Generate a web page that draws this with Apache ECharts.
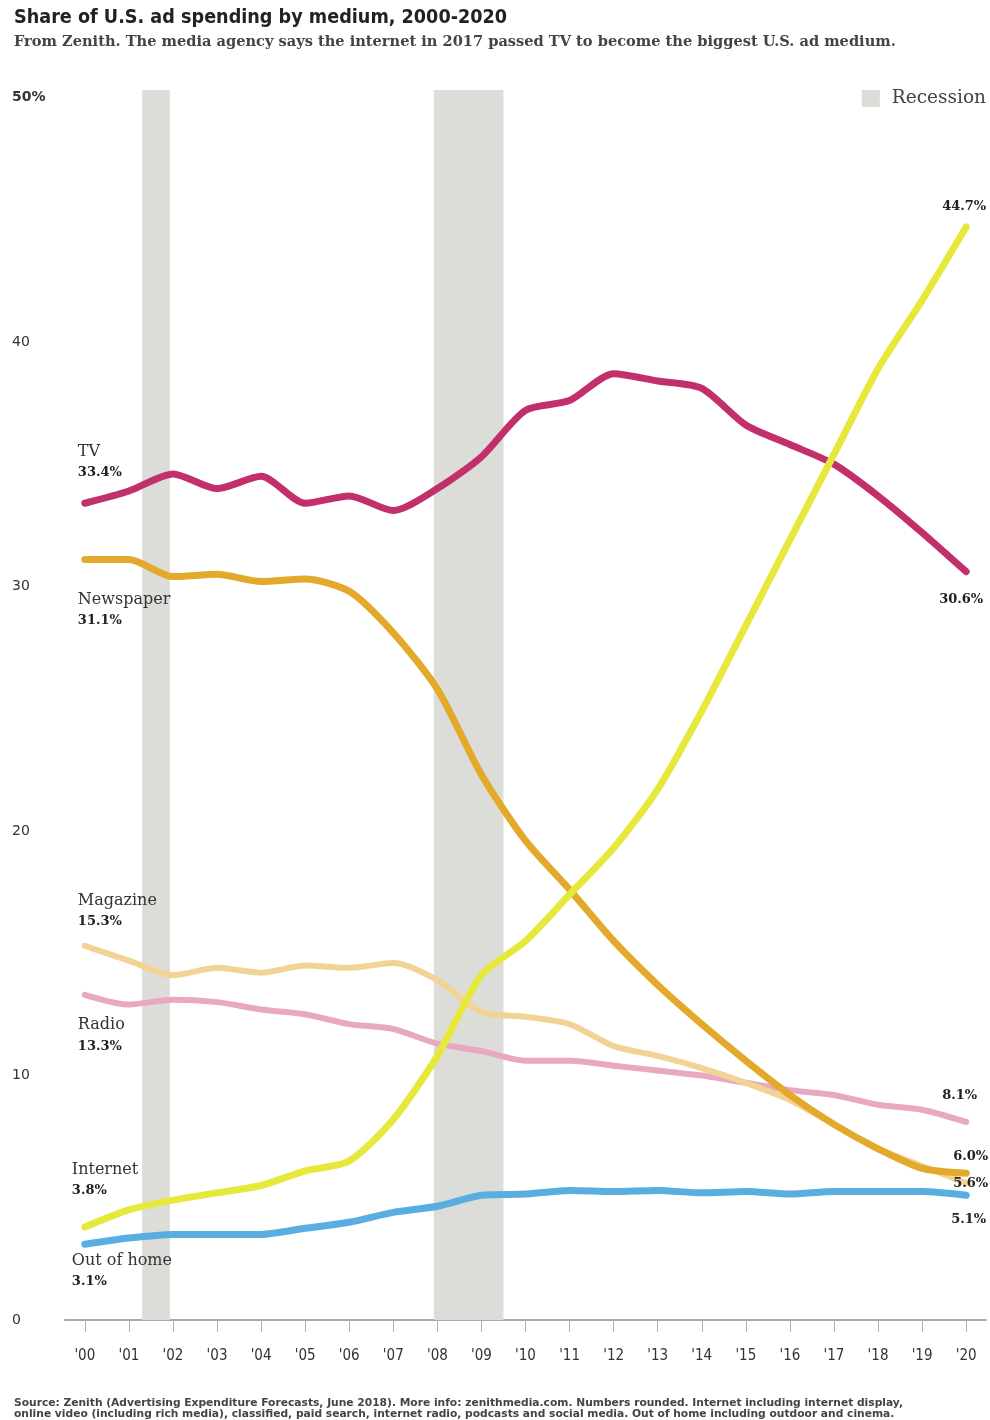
<!DOCTYPE html>
<html>
<head>
<meta charset="utf-8">
<script src="https://cdn.jsdelivr.net/npm/echarts@6/dist/echarts.min.js"></script>
<style>
html,body{margin:0;padding:0;background:#fff;}
#chart{width:990px;height:1420px;}
</style>
</head>
<body>
<div id="chart"></div>
<script>
var years = [2000,2001,2002,2003,2004,2005,2006,2007,2008,2009,2010,2011,2012,2013,2014,2015,2016,2017,2018,2019,2020];
var tvValues = [33.4,33.9,34.6,34.0,34.5,33.4,33.7,33.1,34.0,35.3,37.2,37.6,38.7,38.4,38.1,36.6,35.8,35.0,33.7,32.2,30.6];
var newspaperValues = [31.1,31.1,30.4,30.5,30.2,30.3,29.8,28.1,25.8,22.3,19.6,17.6,15.5,13.7,12.1,10.6,9.2,8.0,7.0,6.2,6.0];
var magazineValues = [15.3,14.7,14.1,14.4,14.2,14.5,14.4,14.6,13.9,12.6,12.4,12.1,11.2,10.8,10.3,9.7,9.0,8.0,7.0,6.3,5.6];
var radioValues = [13.3,12.9,13.1,13.0,12.7,12.5,12.1,11.9,11.3,11.0,10.6,10.6,10.4,10.2,10.0,9.7,9.4,9.2,8.8,8.6,8.1];
var internetValues = [3.8,4.5,4.9,5.2,5.5,6.1,6.5,8.2,10.8,14.1,15.5,17.4,19.3,21.7,24.9,28.4,31.9,35.4,38.9,41.7,44.7];
var outOfHomeValues = [3.1,3.35,3.5,3.5,3.5,3.75,4.0,4.4,4.65,5.1,5.15,5.3,5.25,5.3,5.2,5.25,5.15,5.25,5.25,5.25,5.1];
var recessions = [[2001.3, 2001.93], [2007.92, 2009.5]];
var yTicks = [0,10,20,30,40,50];

var chart = echarts.init(document.getElementById('chart'), null, {renderer:'canvas'});

var serif = 'DejaVu Serif';
var cond = 'DejaVu Sans Condensed';
var labelRich = {
  n: {fontFamily: serif, fontSize: 16, color: '#333', lineHeight: 21},
  v: {fontFamily: serif, fontSize: 13, fontWeight: 'bold', color: '#222', lineHeight: 21}
};

function makeData(vals, name, startOff, endOff) {
  return vals.map(function(v, i){
    var item = {value: [years[i], v]};
    if (i === 0) {
      item.label = {
        show: true, position: 'inside', align: 'left', verticalAlign: 'middle',
        offset: startOff,
        formatter: '{n|' + name + '}\n{v|' + v.toFixed(1) + '%}',
        rich: labelRich
      };
    } else if (i === vals.length - 1) {
      item.label = {
        show: true, position: 'inside', align: 'right', verticalAlign: 'middle',
        offset: endOff,
        formatter: '{v|' + v.toFixed(1) + '%}',
        rich: labelRich
      };
    }
    return item;
  });
}

function lineSeries(name, vals, color, width, startOff, endOff, z) {
  return {
    name: name, type: 'line', smooth: 0.25,
    symbol: 'circle', symbolSize: 0.01, showSymbol: true, showAllSymbol: true,
    itemStyle: {color: color},
    lineStyle: {color: color, width: width, cap: 'round', join: 'round'},
    data: makeData(vals, name, startOff, endOff),
    z: z, emphasis: {disabled: true}, silent: true
  };
}

var option = {
  animation: false,
  backgroundColor: '#fff',
  title: [{
    text: 'Share of U.S. ad spending by medium, 2000-2020',
    left: 14, top: 8, padding: 0,
    textStyle: {fontFamily: cond, fontWeight: 'bold', fontSize: 19.6, color: '#222'}
  }, {
    text: 'From Zenith. The media agency says the internet in 2017 passed TV to become the biggest U.S. ad medium.',
    left: 14, top: 35, padding: 0,
    textStyle: {fontFamily: serif, fontWeight: 'bold', fontSize: 14.6, color: '#444'}
  }, {
    text: 'Source: Zenith (Advertising Expenditure Forecasts, June 2018). More info: zenithmedia.com. Numbers rounded. Internet including internet display,\nonline video (including rich media), classified, paid search, internet radio, podcasts and social media. Out of home including outdoor and cinema.',
    left: 14, top: 1397, padding: 0,
    textStyle: {fontFamily: 'DejaVu Sans', fontWeight: 'bold', fontSize: 10.7, lineHeight: 11.5, color: '#444'}
  }],
  legend: {
    data: [{name: 'Recession', icon: 'rect'}],
    right: 4, top: 89, padding: 0,
    itemWidth: 18, itemHeight: 17, itemGap: 10,
    textStyle: {fontFamily: serif, fontSize: 18.5, color: '#444', padding: [0, 0, 0, 7]},
    selectedMode: false
  },
  grid: {left: 65, right: 4, top: 90, bottom: 100, containLabel: false},
  xAxis: {
    type: 'value', min: 1999.55, max: 2020.45,
    axisLine: {show: true, lineStyle: {color: '#a8a8a8', width: 2}},
    axisTick: {show: true, customValues: years, length: 12, lineStyle: {color: '#b0b0b0', width: 1}},
    axisLabel: {
      customValues: years, margin: 29,
      fontFamily: cond, fontSize: 15, color: '#333',
      formatter: function(v){ return "'" + String(Math.round(v)).slice(2); }
    },
    splitLine: {show: false}
  },
  yAxis: {
    type: 'value', min: 0, max: 50.3,
    axisLine: {show: false}, axisTick: {show: false}, splitLine: {show: false},
    axisLabel: {
      customValues: yTicks, align: 'left', margin: 53,
      fontFamily: 'DejaVu Sans', fontSize: 14, color: '#333',
      formatter: function(v){ return v === 50 ? '{b|50%}' : v; },
      rich: {b: {fontFamily: 'DejaVu Sans', fontWeight: 'bold', fontSize: 14, color: '#333'}}
    }
  },
  series: [
    {
      name: 'Recession', type: 'line', data: [],
      itemStyle: {color: '#dcdcd8'},
      markArea: {
        silent: true,
        itemStyle: {color: '#dcdcd8'},
        data: recessions.map(function(r){ return [{xAxis: r[0]}, {xAxis: r[1]}]; })
      },
      z: 1
    },
    lineSeries('Out of home', outOfHomeValues, '#5aade0', 7, [-13, 27], [20, 24], 2),
    lineSeries('Radio', radioValues, '#e8a9c0', 6, [-7, 41], [11, -26], 3),
    lineSeries('Magazine', magazineValues, '#f2d396', 6, [-7, -35], [22, 1], 4),
    lineSeries('Newspaper', newspaperValues, '#e3a92b', 7, [-7, 51], [22, -17], 5),
    lineSeries('TV', tvValues, '#c2306c', 7, [-7, -41], [17, 28], 6),
    lineSeries('Internet', internetValues, '#e6e83c', 7, [-13, -47], [20, -20], 7)
  ]
};
chart.setOption(option);
</script>
</body>
</html>
